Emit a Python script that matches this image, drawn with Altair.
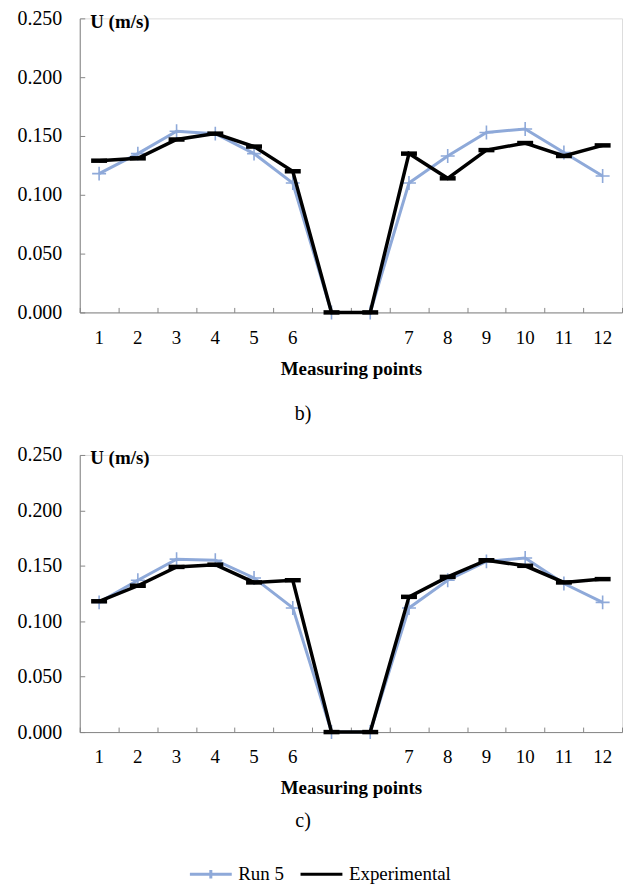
import altair as alt
import pandas as pd

categories = ["1", "2", "3", "4", "5", "6", "g1", "g2", "7", "8", "9", "10", "11", "12"]
run5_b = [0.118, 0.135, 0.154, 0.152, 0.135, 0.110, 0.0, 0.0, 0.110, 0.133, 0.153, 0.156, 0.136, 0.116]
exp_b = [0.129, 0.131, 0.147, 0.152, 0.141, 0.120, 0.0, 0.0, 0.135, 0.114, 0.138, 0.144, 0.133, 0.142]
run5_c = [0.117, 0.137, 0.156, 0.155, 0.139, 0.112, 0.0, 0.0, 0.112, 0.137, 0.154, 0.157, 0.134, 0.117]
exp_c = [0.118, 0.132, 0.149, 0.151, 0.135, 0.137, 0.0, 0.0, 0.122, 0.140, 0.155, 0.150, 0.135, 0.138]
series_names = ["Run 5", "Experimental"]
y_ticks = [0.0, 0.05, 0.10, 0.15, 0.20, 0.25]

BLUE = "#8EA9D9"
BLACK = "#000000"
FONT = "Liberation Serif"
GRAY = "#878787"


def make_df(run, exp):
    rows = []
    for c, r, e in zip(categories, run, exp):
        rows.append({"cat": c, "series": "Run 5", "U": r})
        rows.append({"cat": c, "series": "Experimental", "U": e})
    return pd.DataFrame(rows)


label_expr = "indexof(['g1','g2'], datum.value) >= 0 ? '' : datum.value"
x_scale = alt.Scale(type="band", domain=categories, paddingInner=0, paddingOuter=0)
y_scale = alt.Scale(domain=[0, 0.25], nice=False)


def panel(df, height, caption, caption_offset, with_legend):
    x = alt.X(
        "cat:N",
        sort=categories,
        scale=x_scale,
        axis=alt.Axis(
            orient="bottom",
            title="Measuring points",
            titleFont=FONT,
            titleFontSize=19,
            titleFontWeight="bold",
            titlePadding=12,
            labelFont=FONT,
            labelFontSize=19,
            labelAngle=0,
            labelPadding=16,
            labelExpr=label_expr,
            ticks=False,
            tickSize=0,
            domainColor=GRAY,
            grid=False,
        ),
    )
    y = alt.Y(
        "U:Q",
        scale=y_scale,
        axis=alt.Axis(
            orient="left",
            title="U (m/s)",
            titleFont=FONT,
            titleFontSize=19,
            titleFontWeight="bold",
            titleAngle=0,
            titleAlign="left",
            titleBaseline="middle",
            titleX=10,
            titleY=3,
            values=y_ticks,
            format=".3f",
            labelFont=FONT,
            labelFontSize=20,
            labelPadding=18,
            ticks=False,
            tickSize=0,
            domainColor=GRAY,
            grid=False,
        ),
    )
    base = alt.Chart(df).encode(x=x, y=y)
    blue = base.transform_filter("datum.series == 'Run 5'")
    black = base.transform_filter("datum.series == 'Experimental'")

    # inward tick marks: a second, tick-only axis pair shifted into the plot
    tick_layer = alt.Chart(df).transform_filter("datum.series == 'none'").mark_point(opacity=0).encode(
        x=alt.X("cat:N", sort=categories, scale=x_scale,
                axis=alt.Axis(orient="bottom", offset=-5, domain=False, labels=False, title=None,
                              tickBand="extent", tickSize=5, tickColor=GRAY, grid=False)),
        y=alt.Y("U:Q", scale=y_scale,
                axis=alt.Axis(orient="left", offset=-5, domain=False, labels=False, title=None,
                              values=y_ticks, tickSize=5, tickColor=GRAY, grid=False)),
    )

    layers = [
        blue.mark_line(color=BLUE, strokeWidth=3),
        blue.mark_point(shape="M-1,0L1,0M0,-1L0,1", size=196, filled=False,
                        color=BLUE, strokeWidth=1.6, opacity=1),
        black.mark_line(color=BLACK, strokeWidth=3.5),
        black.mark_point(shape="M-1,0L1,0", size=256, filled=False,
                         color=BLACK, strokeWidth=4.5, opacity=1),
    ]
    if with_legend:
        leg = alt.Legend(
            title=None,
            orient="none",
            direction="horizontal",
            legendX=109,
            legendY=836,
            labelFont=FONT,
            labelFontSize=19,
            labelColor="#000000",
            symbolSize=1764,
            symbolStrokeWidth=3,
            labelOffset=5,
            columnPadding=10,
        )
        legend_layer = base.transform_filter("datum.series == 'none'").mark_point(
            filled=False, strokeWidth=3, opacity=1
        ).encode(
            color=alt.Color("series:N", scale=alt.Scale(domain=series_names, range=[BLUE, BLACK]), legend=leg),
            shape=alt.Shape("series:N", scale=alt.Scale(domain=series_names,
                            range=["M-1,0L1,0M0,-0.2L0,0.2", "M-1,0L1,0"]), legend=leg),
        )
        layers.append(legend_layer)
    data_layers = alt.layer(*layers)
    return alt.layer(tick_layer, data_layers).resolve_axis(x="independent", y="independent").properties(
        width=544,
        height=height,
        title=alt.TitleParams(
            text=caption,
            orient="bottom",
            font=FONT,
            fontSize=20,
            fontWeight="normal",
            offset=caption_offset,
            dx=-48,
        ),
    )


chart_b = panel(make_df(run5_b, exp_b), 295, "b)", 26, False)
chart_c = panel(make_df(run5_c, exp_c), 278, "c)", 13, True)

chart = alt.vconcat(chart_b, chart_c, spacing=19).properties(
    padding={"left": 16, "top": 6, "right": 0, "bottom": 0}
).configure_view(stroke=None).configure(background="white")

chart.save("out.html", embed_options={"renderer": "svg", "actions": False})
